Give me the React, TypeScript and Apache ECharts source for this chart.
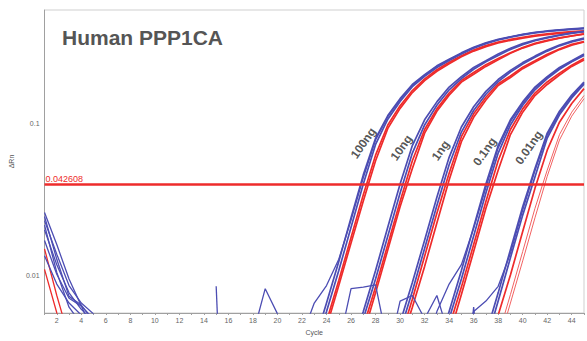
import React, { useEffect, useRef } from 'react';
import * as echarts from 'echarts';

// ---- axis / reference values ----
const Y_MIN = 0.005675;
const Y_MAX = 0.5592;
const X_MIN = 1;
const X_MAX = 45;
const THRESHOLD = 0.042608;
const THRESHOLD_LABEL = '0.042608';
const TITLE = 'Human PPP1CA';

// ---- dilution labels (cycle, ΔRn) ----
const dilutionNames = ['100ng', '10ng', '1ng', '0.1ng', '0.01ng'];
const dilutionLabelCycle = [27.0, 30.1, 33.3, 36.9, 40.5];
const dilutionLabelValue = [0.0745, 0.0695, 0.0665, 0.0655, 0.0695];

// ---- amplification curves (ΔRn per cycle, first value at the given start cycle) ----
// 100 ng, start cycle 21
const ng100Start = 21;
const ng100Blue1 = [0.0011, 0.002, 0.0036, 0.0066, 0.0124, 0.024, 0.046, 0.08, 0.113, 0.146, 0.181, 0.21, 0.24, 0.265, 0.292, 0.318, 0.34, 0.358, 0.373, 0.387, 0.398, 0.407, 0.414, 0.42, 0.425];
const ng100Blue2 = [0.001, 0.0019, 0.0032, 0.0058, 0.0108, 0.0208, 0.04, 0.073, 0.107, 0.14, 0.175, 0.205, 0.234, 0.26, 0.287, 0.313, 0.336, 0.355, 0.37, 0.384, 0.395, 0.404, 0.411, 0.417, 0.422];
const ng100Blue3 = [0.0015, 0.004, 0.0066, 0.0086, 0.0128, 0.0232, 0.044, 0.078, 0.111, 0.144, 0.179, 0.208, 0.238, 0.263, 0.29, 0.316, 0.338, 0.357, 0.372, 0.386, 0.397, 0.406, 0.413, 0.419, 0.424];
const ng100Red1 = [0.0009, 0.0016, 0.0028, 0.005, 0.0093, 0.0178, 0.034, 0.062, 0.098, 0.131, 0.165, 0.197, 0.226, 0.253, 0.28, 0.305, 0.326, 0.344, 0.358, 0.37, 0.381, 0.39, 0.397, 0.403, 0.408];
const ng100Red2 = [0.0008, 0.0014, 0.0026, 0.0046, 0.0086, 0.0164, 0.031, 0.057, 0.093, 0.126, 0.16, 0.192, 0.221, 0.248, 0.275, 0.3, 0.321, 0.339, 0.353, 0.365, 0.376, 0.385, 0.392, 0.398, 0.403];

// 10 ng, start cycle 24
const ng10Start = 24;
const ng10Blue1 = [0.001, 0.0018, 0.0032, 0.0058, 0.0108, 0.0209, 0.04, 0.0717, 0.106, 0.139, 0.174, 0.204, 0.234, 0.259, 0.287, 0.313, 0.336, 0.354, 0.369, 0.383, 0.395, 0.404];
const ng10Blue2 = [0.0009, 0.0016, 0.0028, 0.0052, 0.0095, 0.0182, 0.035, 0.064, 0.098, 0.132, 0.167, 0.198, 0.228, 0.255, 0.281, 0.308, 0.331, 0.351, 0.367, 0.381, 0.392, 0.403];
const ng10Red1 = [0.0008, 0.0014, 0.0025, 0.0046, 0.0084, 0.016, 0.0307, 0.057, 0.0915, 0.125, 0.159, 0.192, 0.217, 0.244, 0.268, 0.293, 0.317, 0.337, 0.353, 0.367, 0.378, 0.389];
const ng10Red2 = [0.0007, 0.0013, 0.0023, 0.0041, 0.0077, 0.0148, 0.0284, 0.0507, 0.0866, 0.1206, 0.154, 0.1875, 0.211, 0.238, 0.263, 0.29, 0.314, 0.334, 0.35, 0.365, 0.377, 0.388];

// 1 ng, start cycle 27
const ng1Start = 27;
const ng1Blue1 = [0.0008, 0.0015, 0.0027, 0.0049, 0.009, 0.0171, 0.0328, 0.06, 0.095, 0.129, 0.163, 0.195, 0.224, 0.252, 0.278, 0.305, 0.329, 0.349, 0.365];
const ng1Blue2 = [0.0007, 0.0013, 0.0024, 0.0043, 0.0079, 0.0151, 0.0289, 0.0536, 0.088, 0.122, 0.156, 0.189, 0.2185, 0.2468, 0.273, 0.3, 0.325, 0.345, 0.361];
const ng1Red1 = [0.0006, 0.0012, 0.0021, 0.0038, 0.007, 0.0134, 0.0257, 0.0471, 0.082, 0.116, 0.149, 0.183, 0.206, 0.235, 0.259, 0.286, 0.31, 0.332, 0.346];
const ng1Red2 = [0.0006, 0.0011, 0.0019, 0.0034, 0.0062, 0.0115, 0.0222, 0.0426, 0.076, 0.11, 0.143, 0.178, 0.201, 0.23, 0.254, 0.281, 0.307, 0.328, 0.345];

// 0.1 ng, start cycle 31
const ng01Start = 31;
const ng01Blue1 = [0.001, 0.0018, 0.0032, 0.0058, 0.0108, 0.0209, 0.04, 0.0717, 0.106, 0.139, 0.174, 0.204, 0.234, 0.259, 0.287];
const ng01Blue2 = [0.0009, 0.0016, 0.0028, 0.0052, 0.0095, 0.0182, 0.035, 0.064, 0.098, 0.132, 0.167, 0.198, 0.228, 0.255, 0.281];
const ng01Blue3 = [0.0012, 0.003, 0.0058, 0.0088, 0.0118, 0.0205, 0.038, 0.069, 0.103, 0.136, 0.171, 0.201, 0.231, 0.257, 0.284];
const ng01Red1 = [0.0008, 0.0014, 0.0025, 0.0046, 0.0084, 0.016, 0.0307, 0.057, 0.0915, 0.125, 0.159, 0.188, 0.215, 0.242, 0.268];
const ng01Red2 = [0.0007, 0.0012, 0.0022, 0.004, 0.0075, 0.0144, 0.0277, 0.0494, 0.0847, 0.119, 0.153, 0.181, 0.209, 0.238, 0.262];

// 0.01 ng, start cycle 34
const ng001Start = 34;
const ng001Blue1 = [0.0007, 0.0013, 0.0023, 0.0041, 0.0077, 0.0148, 0.0284, 0.0507, 0.0866, 0.1206, 0.154, 0.1875];
const ng001Blue2 = [0.0006, 0.0011, 0.002, 0.0036, 0.0068, 0.0131, 0.025, 0.0446, 0.0804, 0.1144, 0.1477, 0.182];
const ng001Blue3 = [0.0009, 0.003, 0.0058, 0.0068, 0.0085, 0.014, 0.027, 0.049, 0.084, 0.118, 0.151, 0.185];
const ng001Red1 = [0.0005, 0.001, 0.0017, 0.003, 0.0055, 0.0101, 0.0195, 0.0375, 0.0669, 0.1022, 0.1357, 0.17];
const ng001Red2 = [0.0004, 0.0007, 0.0012, 0.0022, 0.004, 0.0075, 0.0144, 0.0277, 0.0494, 0.0847, 0.119, 0.153];
const ng001Red3 = [0.0004, 0.0006, 0.0011, 0.0019, 0.0035, 0.0066, 0.0125, 0.024, 0.045, 0.078, 0.112, 0.146];

// early-cycle baseline noise, start cycle 1
const noiseStart = 1;
const noiseBlue1 = [0.026, 0.016, 0.0095, 0.0063, 0.0042, 0.0018];
const noiseBlue2 = [0.023, 0.0138, 0.0086, 0.0066, 0.0056, 0.003];
const noiseBlue3 = [0.02, 0.0118, 0.0077, 0.006, 0.005, 0.0025];
const noiseBlue4 = [0.017, 0.0102, 0.0071, 0.0063, 0.0052, 0.0021];
const noiseBlue5 = [0.0135, 0.0088, 0.0066, 0.0055, 0.0046, 0.002];
const noiseBlue6 = [0.0245, 0.0128, 0.0073, 0.0064, 0.005, 0.002];
const noiseBlue7 = [0.0215, 0.0105, 0.0062, 0.0048, 0.002];
const noiseRed1 = [0.015, 0.0074, 0.0039, 0.0015];
const noiseRed2 = [0.011, 0.0057, 0.003, 0.0012];

// isolated baseline spikes
const spikeAStart = 15;
const spikeA = [0.0085, 0.0001];
const spikeBStart = 18;
const spikeB = [0.0041, 0.0082, 0.0056, 0.001];
const spikeCStart = 25;
const spikeC = [0.0035, 0.0082, 0.0084, 0.0087, 0.0035];
const spikeDStart = 29;
const spikeD = [0.003, 0.0068, 0.0074, 0.0052, 0.0074, 0.004];
const spikeEStart = 35;
const spikeE = [0.001, 0.0062, 0.001];

const BLUE = '#4c4db3';
const RED = '#ee2b2b';
const RED_THIN = '#f26262';
const FONT = '"Liberation Sans", Arial, Helvetica, sans-serif';

function toPairs(start: number, values: number[]) {
  return values.map((v, i) => [start + i, v]);
}

function curve(start: number, values: number[], color: string, width: number, z = 2) {
  return {
    type: 'line',
    data: toPairs(start, values),
    showSymbol: false,
    symbol: 'none',
    silent: true,
    clip: true,
    z,
    lineStyle: { color, width },
    itemStyle: { color },
  };
}

function formatLog(v: number) {
  const l = Math.log10(v);
  const r = Math.round(l);
  if (Math.abs(l - r) > 1e-6) return '';
  return Math.pow(10, r).toFixed(Math.max(0, -r));
}

export default function App() {
  const ref = useRef<HTMLDivElement>(null);

  useEffect(() => {
    if (!ref.current) return;
    const chart = echarts.init(ref.current, null, { renderer: 'svg' });

    const series: any[] = [
      // red replicates
      curve(ng100Start, ng100Red1, RED, 1.7),
      curve(ng100Start, ng100Red2, RED, 1.7),
      curve(ng10Start, ng10Red1, RED, 1.7),
      curve(ng10Start, ng10Red2, RED, 1.7),
      curve(ng1Start, ng1Red1, RED, 1.7),
      curve(ng1Start, ng1Red2, RED, 1.7),
      curve(ng01Start, ng01Red1, RED, 1.7),
      curve(ng01Start, ng01Red2, RED, 1.7),
      curve(ng001Start, ng001Red1, RED, 1.7),
      curve(ng001Start, ng001Red2, RED_THIN, 1),
      curve(ng001Start, ng001Red3, RED_THIN, 1),
      curve(noiseStart, noiseRed1, RED, 1.3),
      curve(noiseStart, noiseRed2, RED, 1.3),
      // blue replicates
      curve(ng100Start, ng100Blue1, BLUE, 1.7, 3),
      curve(ng100Start, ng100Blue2, BLUE, 1.7, 3),
      curve(ng100Start, ng100Blue3, BLUE, 1.3, 3),
      curve(ng10Start, ng10Blue1, BLUE, 1.7, 3),
      curve(ng10Start, ng10Blue2, BLUE, 1.7, 3),
      curve(ng1Start, ng1Blue1, BLUE, 1.7, 3),
      curve(ng1Start, ng1Blue2, BLUE, 1.7, 3),
      curve(ng01Start, ng01Blue1, BLUE, 1.7, 3),
      curve(ng01Start, ng01Blue2, BLUE, 1.7, 3),
      curve(ng01Start, ng01Blue3, BLUE, 1.3, 3),
      curve(ng001Start, ng001Blue1, BLUE, 1.7, 3),
      curve(ng001Start, ng001Blue2, BLUE, 1.7, 3),
      curve(ng001Start, ng001Blue3, BLUE, 1.3, 3),
      // noise
      curve(noiseStart, noiseBlue1, BLUE, 1.3, 3),
      curve(noiseStart, noiseBlue2, BLUE, 1.3, 3),
      curve(noiseStart, noiseBlue3, BLUE, 1.3, 3),
      curve(noiseStart, noiseBlue4, BLUE, 1.3, 3),
      curve(noiseStart, noiseBlue5, BLUE, 1.3, 3),
      curve(noiseStart, noiseBlue6, BLUE, 1.3, 3),
      curve(noiseStart, noiseBlue7, BLUE, 1.3, 3),
      curve(spikeAStart, spikeA, BLUE, 1.3, 3),
      curve(spikeBStart, spikeB, BLUE, 1.3, 3),
      curve(spikeCStart, spikeC, BLUE, 1.3, 3),
      curve(spikeDStart, spikeD, BLUE, 1.3, 3),
      curve(spikeEStart, spikeE, BLUE, 1.3, 3),
      // threshold
      {
        type: 'line',
        data: [],
        z: 5,
        silent: true,
        markLine: {
          silent: true,
          symbol: ['none', 'none'],
          animation: false,
          lineStyle: { color: RED, width: 2.6, type: 'solid' },
          label: {
            show: true,
            position: 'insideStartTop',
            formatter: THRESHOLD_LABEL,
            color: RED,
            fontSize: 9,
            fontFamily: FONT,
            distance: 1,
          },
          data: [{ yAxis: THRESHOLD }],
        },
      },
      // dilution labels
      {
        type: 'scatter',
        z: 6,
        silent: true,
        symbol: 'circle',
        symbolSize: 1,
        itemStyle: { color: 'rgba(0,0,0,0)' },
        data: dilutionNames.map((n, i) => ({ name: n, value: [dilutionLabelCycle[i], dilutionLabelValue[i]] })),
        label: {
          show: true,
          position: 'inside',
          rotate: 55,
          formatter: (p: any) => p.name,
          color: '#2a2a2a',
          fontSize: 12,
          fontWeight: 'bold',
          fontFamily: FONT,
        },
      },
    ];

    chart.setOption({
      animation: false,
      backgroundColor: '#ffffff',
      textStyle: { fontFamily: FONT },
      title: {
        text: TITLE,
        left: 57,
        top: 22,
        textStyle: { fontSize: 21, fontWeight: 'bold', color: '#555555', fontFamily: FONT },
      },
      grid: {
        left: 42,
        right: -2,
        top: 10,
        bottom: 23,
        show: true,
        borderColor: '#cfcfcf',
        borderWidth: 1,
        backgroundColor: '#ffffff',
      },
      xAxis: {
        type: 'value',
        min: X_MIN,
        max: X_MAX,
        interval: 1,
        name: 'Cycle',
        nameLocation: 'middle',
        nameGap: 16,
        nameTextStyle: { fontSize: 7, color: '#555' },
        axisLine: { show: true, lineStyle: { color: '#a0a0a0', width: 1 } },
        axisTick: { show: true, length: 2, lineStyle: { color: '#a0a0a0' } },
        axisLabel: {
          interval: 0,
          fontSize: 7,
          color: '#666',
          margin: 4,
          formatter: (v: number) => (v % 2 === 0 ? String(v) : ''),
        },
        splitLine: { show: false },
      },
      yAxis: {
        type: 'log',
        logBase: 10,
        min: Y_MIN,
        max: Y_MAX,
        name: 'ΔRn',
        nameLocation: 'middle',
        nameGap: 26,
        nameRotate: 90,
        nameTextStyle: { fontSize: 7, color: '#555' },
        axisLine: { show: true, lineStyle: { color: '#a0a0a0', width: 1 } },
        axisTick: { show: false },
        axisLabel: { fontSize: 7, color: '#666', margin: 5, formatter: formatLog },
        splitLine: { show: false },
      },
      series,
    });

    return () => chart.dispose();
  }, []);

  return (
    <div
      ref={ref}
      style={{ position: 'absolute', left: 0, top: 0, width: 587, height: 341, background: '#fff' }}
    />
  );
}
